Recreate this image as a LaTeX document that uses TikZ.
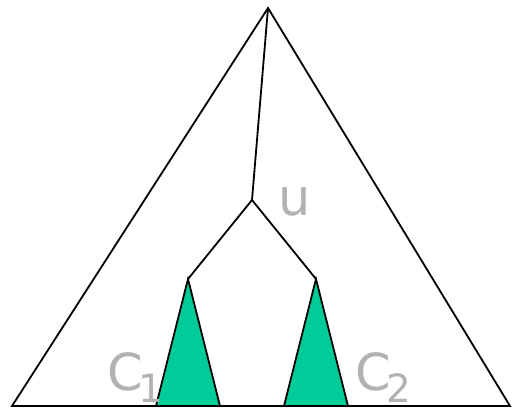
\documentclass[tikz,border=0pt]{standalone}
\usepackage{fontspec}
\setmainfont{DejaVu Sans}
\definecolor{tgreen}{RGB}{0,204,153}
\definecolor{lgray}{RGB}{178,178,178}
\newcommand{\bigsub}[1]{\kern-4pt\raisebox{-12pt}{\fontsize{39}{39}\selectfont #1}}
\begin{document}
\begin{tikzpicture}[x=1pt,y=-1pt,
  edge/.style={draw=black,line width=1.8pt,line join=miter},
  lab/.style={text=lgray,inner sep=0pt,anchor=base west,font=\fontsize{51}{51}\selectfont}]
\useasboundingbox (0,0) rectangle (512,408);
\coordinate (top) at (268,8);
\coordinate (bl) at (12,406);
\coordinate (br) at (510,406);
\coordinate (u) at (252,200);
\coordinate (l) at (188,279);
\coordinate (r) at (316,279);
\coordinate (l1) at (156,406);
\coordinate (l2) at (220,406);
\coordinate (r1) at (284,406);
\coordinate (r2) at (348,406);
\fill[tgreen] (l) -- (l1) -- (l2) -- cycle;
\fill[tgreen] (r) -- (r1) -- (r2) -- cycle;
\draw[edge] (l1) -- (l) -- (l2);
\draw[edge] (r1) -- (r) -- (r2);
\draw[edge] (top) -- (bl) -- (br) -- cycle;
\draw[edge] (top) -- (u);
\draw[edge] (l) -- (u) -- (r);
\node[lab] (ulab) at (278,215) {u};
\node[lab] (c1) at (107,390) {C\bigsub{1}};
\node[lab] (c2) at (355,390) {C\bigsub{2}};
\end{tikzpicture}
\end{document}
